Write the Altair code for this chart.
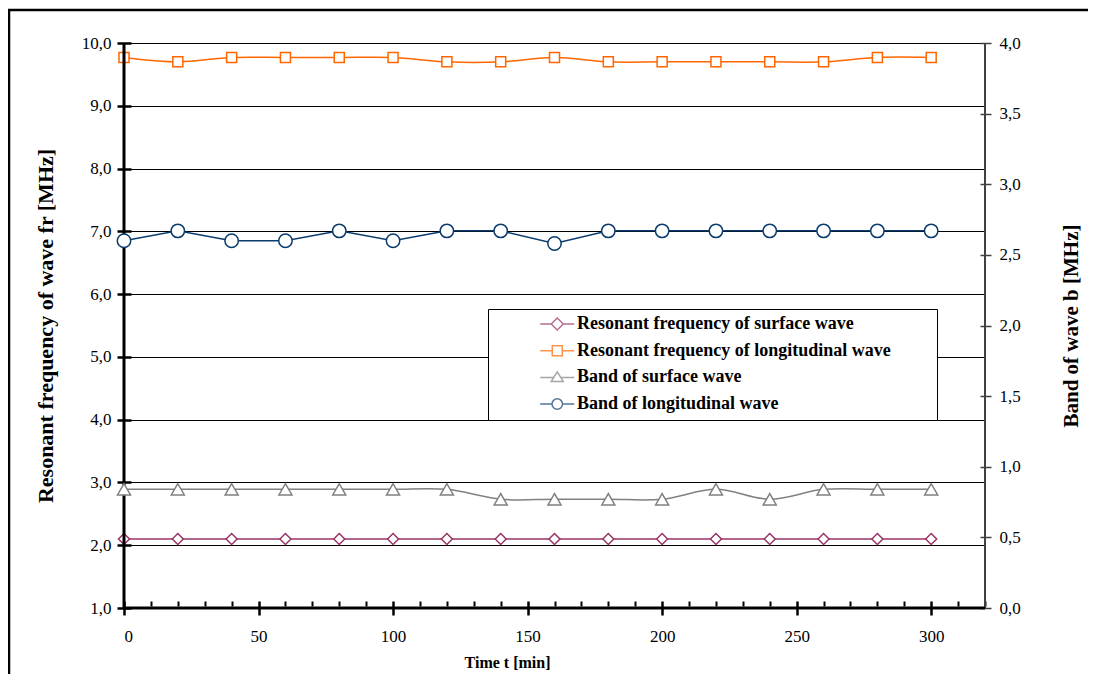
import altair as alt
import pandas as pd

# ---------------- data ----------------
times = [0, 20, 40, 60, 80, 100, 120, 140, 160, 180, 200, 220, 240, 260, 280, 300]
res_surface = [2.10, 2.10, 2.10, 2.10, 2.10, 2.10, 2.10, 2.10, 2.10, 2.10, 2.10, 2.10, 2.10, 2.10, 2.10, 2.10]
res_longitudinal = [9.77, 9.70, 9.77, 9.77, 9.77, 9.77, 9.70, 9.70, 9.77, 9.70, 9.70, 9.70, 9.70, 9.70, 9.77, 9.77]
band_surface = [0.84, 0.84, 0.84, 0.84, 0.84, 0.84, 0.84, 0.77, 0.77, 0.77, 0.77, 0.84, 0.77, 0.84, 0.84, 0.84]
band_longitudinal = [2.60, 2.67, 2.60, 2.60, 2.67, 2.60, 2.67, 2.67, 2.58, 2.67, 2.67, 2.67, 2.67, 2.67, 2.67, 2.67]

series_names = [
    "Resonant frequency of surface wave",
    "Resonant frequency of longitudinal wave",
    "Band of surface wave",
    "Band of longitudinal wave",
]
x_ticks = [0, 10, 20, 30, 40, 50, 60, 70, 80, 90, 100, 110, 120, 130, 140, 150, 160,
           170, 180, 190, 200, 210, 220, 230, 240, 250, 260, 270, 280, 290, 300, 310, 320]
left_ticks = [1.0, 2.0, 3.0, 4.0, 5.0, 6.0, 7.0, 8.0, 9.0, 10.0]
right_ticks = [0.0, 0.5, 1.0, 1.5, 2.0, 2.5, 3.0, 3.5, 4.0]

# ---------------- styling ----------------
W, H = 861, 565
FONT = "Liberation Serif"
colors = ["#993366", "#FF6600", "#808080", "#0B3C6E"]
shapes = ["diamond", "square", "triangle-up", "circle"]
sizes = [121, 100, 170, 180]
interps = ["linear", "catmull-rom", "catmull-rom", "linear"]

COMMA = "replace(format(datum.value, '.1f'), '.', ',')"

xscale = alt.Scale(domain=[0, 320], nice=False, zero=False)
xaxis = alt.Axis(
    values=x_ticks,
    labelExpr="datum.value % 50 === 0 ? datum.label : ''",
    tickSize={"condition": {"test": "datum.value % 50 === 0", "value": 14}, "value": 5},
    tickWidth={"condition": {"test": "datum.value % 50 === 0", "value": 2.5}, "value": 2},
    tickColor="black",
    offset=-7,
    domain=False,
    grid=False,
    labelPadding=13,
    labelFont=FONT, labelFontSize=17, labelColor="black",
    title="Time t  [min]",
    titleFont=FONT, titleFontSize=16, titleFontWeight="bold", titleColor="black",
    titlePadding=10,
    titleX=383,
)

lyaxis = alt.Axis(
    values=left_ticks,
    labelExpr=COMMA,
    tickSize=14, tickWidth=2.5, tickColor="black",
    offset=-7,
    domain=False,
    grid=True, gridColor="black", gridWidth=1,
    labelPadding=6,
    labelFont=FONT, labelFontSize=17, labelColor="black",
    title="Resonant frequency of wave fr  [MHz]",
    titleFont=FONT, titleFontSize=22, titleFontWeight="bold", titleColor="black",
    titlePadding=24,
)

ryaxis = alt.Axis(
    orient="right",
    values=right_ticks,
    labelExpr=COMMA,
    tickSize=11, tickWidth=1.5, tickColor="#404040",
    offset=-5,
    domain=False,
    grid=False,
    labelPadding=8,
    labelFont=FONT, labelFontSize=17, labelColor="black",
    title="Band of wave b  [MHz]",
    titleFont=FONT, titleFontSize=21, titleFontWeight="bold", titleColor="black",
    titleAngle=270,
    titlePadding=61,
)

X = alt.X("t:Q", scale=xscale, axis=xaxis)
YL = alt.Y("v:Q", scale=alt.Scale(domain=[1, 10], nice=False, zero=False), axis=lyaxis)
YR = alt.Y("v:Q", scale=alt.Scale(domain=[0, 4], nice=False, zero=False), axis=ryaxis)


def series_layers(values, color, shape, size, interp, Y):
    df = pd.DataFrame({"t": times, "v": values})
    base = alt.Chart(df)
    line = base.mark_line(color=color, strokeWidth=1.5, interpolate=interp).encode(x=X, y=Y)
    pts = base.mark_point(shape=shape, size=size, fill="white", fillOpacity=1,
                          stroke=color, strokeWidth=1.5, opacity=1).encode(x=X, y=Y)
    return [line, pts]


# legend symbols: a short line with the marker in the middle (unit = 5 px)
def legend_path(kind):
    L, R, c = 7.45, 14.25, 10.85
    if kind == "diamond":
        h = 1.2
        m = f"M{c},{-h}L{c + h},0L{c},{h}L{c - h},0Z"
        a, b = c - h, c + h
    elif kind == "square":
        h = 1.0
        m = f"M{c - h},{-h}H{c + h}V{h}H{c - h}Z"
        a, b = c - h, c + h
    elif kind == "triangle":
        m = f"M{c},-1.1L{c + 1.2},0.8H{c - 1.2}Z"
        a, b = c - 0.7, c + 0.7
    else:
        h = 1.05
        m = f"M{c + h},0A{h},{h},0,1,1,{c - h},0A{h},{h},0,1,1,{c + h},0"
        a, b = c - h, c + h
    return f"M{L},0H{a}M{b},0H{R}" + m


legend_paths = [legend_path(k) for k in ["diamond", "square", "triangle", "circle"]]

legend_props = dict(
    orient="none", legendX=364, legendY=266,
    title=" ", titleOrient="right", titlePadding=40,
    labelFont=FONT, labelFontSize=18, labelFontWeight="bold", labelColor="black",
    labelLimit=600,
    labelOffset=65,
    symbolSize=100, symbolStrokeWidth=1.5,
    fillColor="white", strokeColor="black",
    padding=6, rowPadding=8.7,
)

legend_layer = alt.Chart(pd.DataFrame({"series": series_names})).transform_filter("false").mark_point(
    filled=False, strokeWidth=1.5
).encode(
    color=alt.Color("series:N", scale=alt.Scale(domain=series_names, range=colors),
                    legend=alt.Legend(**legend_props)),
    shape=alt.Shape("series:N", scale=alt.Scale(domain=series_names, range=legend_paths),
                    legend=alt.Legend(**legend_props)),
)

frame = alt.Chart(pd.DataFrame({"a": [0]})).mark_rect(
    fillOpacity=0, stroke="black", strokeWidth=2.5
).encode(x=alt.value(-115), x2=alt.value(990), y=alt.value(-33), y2=alt.value(660))

left_line = alt.Chart(pd.DataFrame({"t": [0]})).mark_rule(color="black", strokeWidth=3).encode(x=X)
right_line = alt.Chart(pd.DataFrame({"t": [320]})).mark_rule(color="#404040", strokeWidth=2).encode(x=X)
bottom_line = alt.Chart(pd.DataFrame({"v": [1.0]})).mark_rule(color="black", strokeWidth=3).encode(y=YL)

left_group = alt.layer(
    frame,
    *series_layers(res_surface, colors[0], shapes[0], sizes[0], interps[0], YL),
    *series_layers(res_longitudinal, colors[1], shapes[1], sizes[1], interps[1], YL),
    left_line, right_line, bottom_line,
    legend_layer,
)
right_group = alt.layer(
    *series_layers(band_surface, colors[2], shapes[2], sizes[2], interps[2], YR),
    *series_layers(band_longitudinal, colors[3], shapes[3], sizes[3], interps[3], YR),
)

chart = alt.layer(left_group, right_group).resolve_scale(y="independent").properties(
    width=W, height=H,
    autosize=alt.AutoSizeParams(type="none"),
    padding={"left": 116, "top": 35, "right": 103, "bottom": 66},
).configure_view(stroke=None).configure(font=FONT).configure_axis(
    labelFont=FONT, titleFont=FONT
).configure_legend(labelFont=FONT)

chart.save("out.html", embed_options={"renderer": "svg", "actions": False})
